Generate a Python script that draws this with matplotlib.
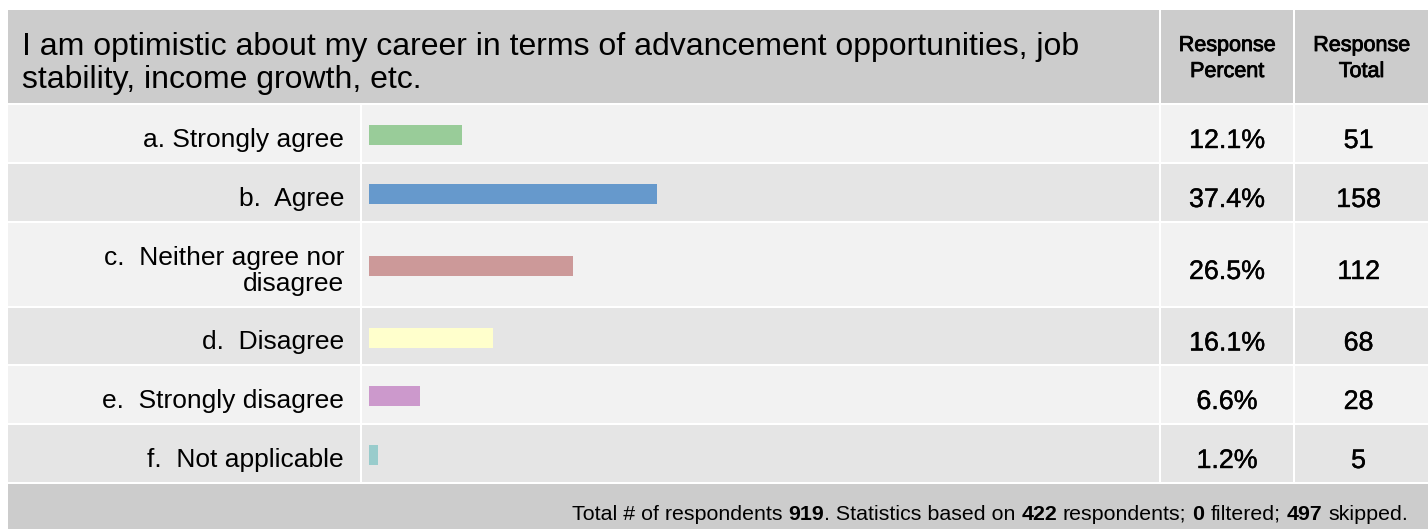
import matplotlib
matplotlib.use("Agg")
import matplotlib.pyplot as plt
import matplotlib.patheffects as pe
from matplotlib import font_manager
from matplotlib.patches import Rectangle

# ---- data ----
question = ("I am optimistic about my career in terms of advancement opportunities, job\n"
            "stability, income growth, etc.")
labels = ["a. Strongly agree", "b.  Agree", "c.  Neither agree nor\ndisagree",
          "d.  Disagree", "e.  Strongly disagree", "f.  Not applicable"]
percents = [12.1, 37.4, 26.5, 16.1, 6.6, 1.2]
totals = [51, 158, 112, 68, 28, 5]
bar_colors = ["#99cc99", "#6699cc", "#cc9999", "#ffffcc", "#cc99cc", "#99cccc"]
col_heads = ["Response\nPercent", "Response\nTotal"]
n_total, n_based, n_filtered, n_skipped = 919, 422, 0, 497

# ---- layout (pixels) ----
W, H = 1428, 529
X0, Y0 = 8, 10
HEAD_BOT = 103
ROW_H = [59, 59, 85, 58, 59, 59]
LAB_R = 360          # label column right edge
PCT_L, TOT_L = 1159, 1293
BAR_L = 369
PX_PER_PCT = 7.7
FOOT_FS = 15.4

def pick(fams):
    for f in fams:
        try:
            font_manager.findfont(f, fallback_to_default=False)
            return f
        except Exception:
            pass
    return "DejaVu Sans"

SANS = pick(["Liberation Sans", "Arial"])
NARROW = pick(["Liberation Sans Narrow", "Liberation Sans"])
plt.rcParams["font.family"] = SANS
heavy = [pe.withStroke(linewidth=0.6, foreground="black")]
semi = [pe.withStroke(linewidth=0.3, foreground="black")]

fig = plt.figure(figsize=(W / 100, H / 100), dpi=100)
ax = fig.add_axes([0, 0, 1, 1])
ax.set_xlim(0, W); ax.set_ylim(H, 0); ax.axis("off")

def box(x0, y0, x1, y1, fc):
    ax.add_patch(Rectangle((x0, y0), x1 - x0, y1 - y0, facecolor=fc, edgecolor="none"))

# header
box(X0, Y0, W, HEAD_BOT, "#cccccc")
for k, line in enumerate(question.split("\n")):
    ax.text(22, 55 + 33 * k, line, fontsize=23, va="baseline", ha="left")
for (cl, cr), txt in zip([(PCT_L, TOT_L), (TOT_L, W)], col_heads):
    for k, line in enumerate(txt.split("\n")):
        ax.text((cl + cr) / 2 + 1, 51 + 26 * k, line, fontsize=15.5, ha="center",
                va="baseline", family=NARROW, path_effects=heavy)

# rows
tops = []
y = HEAD_BOT + 1
for h in ROW_H:
    tops.append(y); y += h
centers = [t + h / 2 for t, h in zip(tops, ROW_H)]
for i, (t, h) in enumerate(zip(tops, ROW_H)):
    fc = "#f2f2f2" if i % 2 == 0 else "#e5e5e5"
    for cl, cr in [(X0, LAB_R), (LAB_R + 2, PCT_L), (PCT_L + 2, TOT_L), (TOT_L + 2, W)]:
        box(cl, t + 1, cr, t + h - 1, fc)
    lines = labels[i].split("\n")
    for k, line in enumerate(lines):
        base = centers[i] + 13.5 - 12.5 * (len(lines) - 1) + 25 * k
        ax.text(344, base, line, fontsize=19, ha="right", va="baseline")
    ax.text((PCT_L + TOT_L) / 2 + 1, centers[i] + 14.5, f"{percents[i]:.1f}%",
            fontsize=19.3, ha="center", va="baseline", path_effects=semi)
    ax.text((TOT_L + W) / 2 - 2, centers[i] + 14.5, str(totals[i]),
            fontsize=19.3, ha="center", va="baseline", path_effects=semi)
# header column separators
for xs in (PCT_L, TOT_L):
    box(xs, Y0, xs + 2, HEAD_BOT, "white")

# footer
foot_top = y + 1
box(X0, foot_top, W, H, "#cccccc")

# bars on their own axes (x in percent)
axb = fig.add_axes([BAR_L / W, 0, (PCT_L - BAR_L) / W, 1])
axb.set_xlim(0, (PCT_L - BAR_L) / PX_PER_PCT); axb.set_ylim(H, 0); axb.axis("off")
axb.patch.set_alpha(0)
axb.barh([c + 1.5 for c in centers], percents, height=20, color=bar_colors)

# footer text with bold numbers, laid out right to left
pieces = [("Total # of respondents ", "normal"), (str(n_total), "bold"),
          (". Statistics based on ", "normal"), (str(n_based), "bold"),
          (" respondents; ", "normal"), (str(n_filtered), "bold"),
          (" filtered; ", "normal"), (str(n_skipped), "bold"), (" skipped.", "normal")]
r = fig.canvas.get_renderer()
def wid(s, wt):
    t = ax.text(0, 0, s, fontsize=FOOT_FS, family=NARROW, weight=wt)
    w = t.get_window_extent(r).width
    t.remove()
    return w
sp = wid("a a", "normal") - wid("aa", "normal")
x = 1408
for s, wt in reversed(pieces):
    core = s.strip()
    if s.endswith(" "):
        x -= sp
    ax.text(x, 520, core, fontsize=FOOT_FS, family=NARROW, weight=wt, ha="right", va="baseline")
    x -= wid(core, wt)
    if s.startswith(" "):
        x -= sp

fig.savefig("out.png", dpi=100)
